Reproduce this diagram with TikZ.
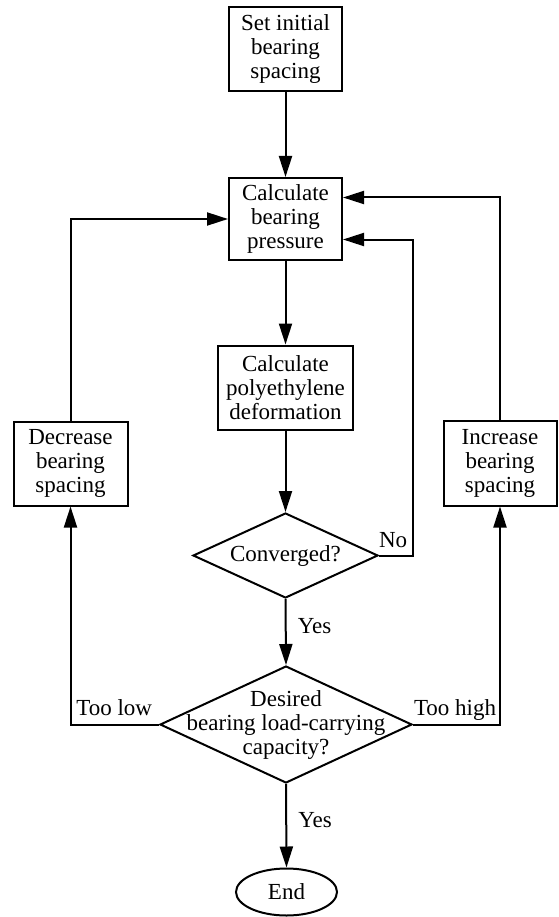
\documentclass[tikz,border=0pt]{standalone}
\usepackage{fontspec}
\setmainfont{Liberation Serif}
\usetikzlibrary{arrows.meta,shapes.geometric,calc}
\begin{document}
\begin{tikzpicture}[x=1pt,y=-1pt,
  every node/.style={font=\fontsize{23}{24}\selectfont},
  proc/.style={draw, line width=2pt, rectangle, align=center, inner sep=0pt},
  decision/.style={draw, line width=2pt, diamond, inner sep=0pt},
  term/.style={draw, line width=2pt, ellipse, inner sep=0pt},
  arr/.style={line width=2pt, -{Triangle[length=21pt,width=13pt]}},
  lbl/.style={inner sep=0pt}]
\useasboundingbox (0,0) rectangle (558,917);

\node[proc, minimum width=113pt, minimum height=84pt] (s1) at (285.5,49.5) {Set initial\\bearing\\spacing};
\node[proc, minimum width=113pt, minimum height=82pt] (calc) at (285.5,219) {Calculate\\bearing\\pressure};
\node[proc, minimum width=135pt, minimum height=84pt] (poly) at (285.5,387.5) {Calculate\\polyethylene\\deformation};
\node[proc, minimum width=114pt, minimum height=84pt] (dec) at (70.5,463.5) {Decrease\\bearing\\spacing};
\node[proc, minimum width=113pt, minimum height=85pt] (inc) at (500,463) {Increase\\bearing\\spacing};
\node[decision, minimum width=185pt, minimum height=85pt,
  label={[align=center]center:Converged?}] (conv) at (285.5,555.5) {};
\node[decision, minimum width=252pt, minimum height=117pt,
  label={[align=center]center:Desired\\bearing load-carrying\\capacity?}] (desired) at (286,724.5) {};
\node[term, minimum width=101pt, minimum height=47pt] (endn) at (286.5,892) {End};

\draw[arr] (s1.south) -- (calc.north);
\draw[arr] (calc.south) -- (poly.north);
\draw[arr] (poly.south) -- (conv.north);
\draw[arr] (conv.east) node[lbl, anchor=base west, xshift=-1pt, yshift=8pt] {No}
  -- ($(conv.east)+(34,0)$) |- ($(calc.east)+(0,20.5)$);
\draw[arr] (conv.south) -- node[lbl, anchor=base west, xshift=11pt, yshift=-1pt] {Yes} (desired.north);
\draw[arr] (desired.west) node[lbl, anchor=base east, xshift=-6pt, yshift=9pt] {Too low} -| (dec.south);
\draw[arr] (desired.east) node[lbl, anchor=base west, xshift=0pt, yshift=9pt] {Too high} -| (inc.south);
\draw[arr] (dec.north) |- (calc.west);
\draw[arr] (inc.north) |- ($(calc.east)+(0,-21.5)$);
\draw[arr] (desired.south) -- node[lbl, anchor=base west, xshift=11pt, yshift=-2pt] {Yes} (endn.north);
\end{tikzpicture}
\end{document}
